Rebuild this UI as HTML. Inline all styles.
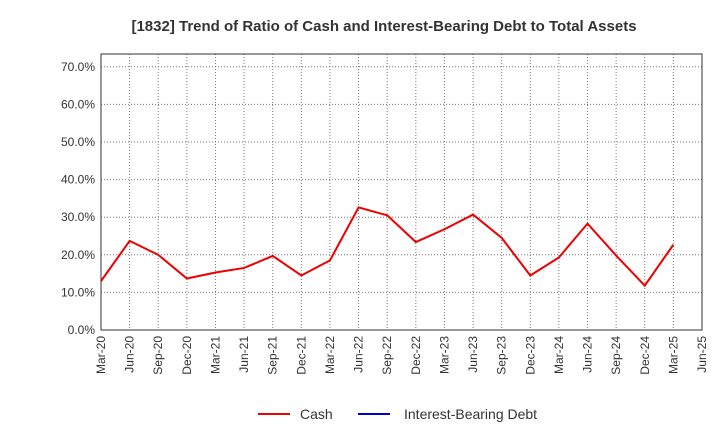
<!DOCTYPE html>
<html><head><meta charset="utf-8"><style>
body{margin:0;background:#fff;font-family:"Liberation Sans",sans-serif}
</style></head><body>
<svg id="c" width="720" height="440" xmlns="http://www.w3.org/2000/svg">
<text x="384" y="31" text-anchor="middle" font-size="15" font-weight="bold" fill="#333">[1832]  Trend of Ratio of Cash and Interest-Bearing Debt to Total Assets</text>
<g id="grid"></g><g id="axes"></g><g id="series"></g>
<g>
<line x1="258" y1="414" x2="290" y2="414" stroke="#e00" stroke-width="2"/>
<text x="300" y="419" font-size="14" fill="#333">Cash</text>
<line x1="358" y1="414" x2="390" y2="414" stroke="#00c" stroke-width="2"/>
<text x="404" y="419" font-size="14" fill="#333">Interest-Bearing Debt</text>
</g>
</svg>
<script>
const categories=["Mar-20","Jun-20","Sep-20","Dec-20","Mar-21","Jun-21","Sep-21","Dec-21","Mar-22","Jun-22","Sep-22","Dec-22","Mar-23","Jun-23","Sep-23","Dec-23","Mar-24","Jun-24","Sep-24","Dec-24","Mar-25","Jun-25"];
const cash=[13,23.7,20,13.7,15.3,16.5,19.7,14.5,18.5,32.6,30.5,23.4,26.8,30.7,24.5,14.5,19.3,28.3,19.8,11.8,22.7];
const debt=[];
const yTicks=[0,10,20,30,40,50,60,70];
const L=101,R=702,T=54,B=330;
const x=i=>L+i*(R-L)/(categories.length-1);
const y=v=>B-v*37.6/10;
const ns="http://www.w3.org/2000/svg";
function mk(p,t,a){const e=document.createElementNS(ns,t);for(const k in a)e.setAttribute(k,a[k]);p.appendChild(e);return e;}
const g=document.getElementById('grid'),ax=document.getElementById('axes'),s=document.getElementById('series');
categories.forEach((c,i)=>{
 const l=mk(g,'line',{x1:x(i),x2:x(i),y1:T,y2:B,stroke:'#777','stroke-dasharray':'1,2'});
 
 
 const t=mk(ax,'text',{transform:`translate(${x(i)+4},${B+6}) rotate(-90)`,'text-anchor':'end','font-size':'12',fill:'#333'});
 t.textContent=c;
 
 
});
yTicks.forEach(v=>{
 const l=mk(g,'line',{x1:L,x2:R,y1:y(v),y2:y(v),stroke:'#777','stroke-dasharray':'1,2'});
 
 
 const t=mk(ax,'text',{x:L-6,y:y(v)+4,'text-anchor':'end','font-size':'12',fill:'#333'});
 t.textContent=v.toFixed(1)+'%';
 
 
});
const fr=mk(ax,'rect',{x:L,y:T,width:R-L,height:B-T,fill:'none',stroke:'#333'});


const p=mk(s,'polyline',{points:cash.map((v,i)=>x(i)+','+y(v)).join(' '),fill:'none',stroke:'#e00','stroke-width':2});


if(debt.length){const d=mk(s,'polyline',{points:debt.map((v,i)=>x(i)+','+y(v)).join(' '),fill:'none',stroke:'#00c','stroke-width':2});

}
</script>
</body></html>
